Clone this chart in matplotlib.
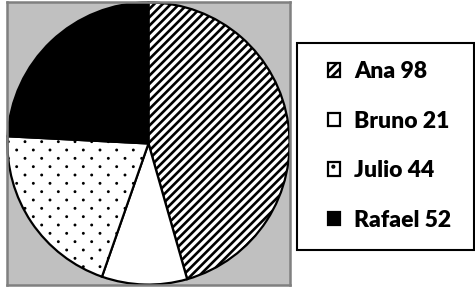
import matplotlib
matplotlib.use("Agg")
import numpy as np
import matplotlib.pyplot as plt
import matplotlib.hatch as mhatch
from matplotlib.path import Path
from matplotlib.patches import Rectangle

names = ["Ana", "Bruno", "Julio", "Rafael"]
values = [98, 21, 44, 52]
facecolors = ["white", "white", "white", "black"]
hatches = ["////", "", "oo", ""]


# small dots on a checkerboard lattice (texture for the "Julio" slice)
class CheckerDots(mhatch.HatchPatternBase):
    def __init__(self, hatch, density):
        self.n = hatch.count('o') * density
        circ = Path.unit_circle()
        self.cv = circ.vertices
        self.cc = circ.codes
        if self.n:
            pts = [(i, j) for j in range(self.n + 1) for i in range(self.n + 1)
                   if (i + j) % 2 == 0]
            self.pts = np.array(pts, float) / self.n
            self.num_vertices = len(self.pts) * len(self.cv)
        else:
            self.num_vertices = 0

    def set_vertices_and_codes(self, vertices, codes):
        r = 0.09 / self.n
        vertices[:] = np.concatenate([self.cv * r + p for p in self.pts])
        codes[:] = np.concatenate([self.cc for _ in self.pts])


mhatch._hatch_types = [CheckerDots if t is mhatch.SmallCircles else t
                       for t in mhatch._hatch_types]

plt.rcParams['hatch.linewidth'] = 1.9
plt.rcParams['hatch.color'] = 'black'

W, H = 475, 287
fig = plt.figure(figsize=(W / 100, H / 100), dpi=100)
ax = fig.add_axes([7 / W, 2 / H, 283 / W, 283 / H])

wedges, _ = ax.pie(values, startangle=90, counterclock=False, colors=facecolors,
                   wedgeprops=dict(edgecolor="black", linewidth=1.6), radius=1.0)
for w, h in zip(wedges, hatches):
    if h:
        w.set_hatch(h)
        if h.startswith('o') and hasattr(w, "set_hatch_linewidth"):
            w.set_hatch_linewidth(1.0)
ax.set_frame_on(True)
ax.patch.set_visible(True)
ax.set_facecolor("#c0c0c0")
for s in ax.spines.values():
    s.set_visible(True)
    s.set_color("#808080")
    s.set_linewidth(1.8)
ax.set_xlim(-1.003, 1.003)
ax.set_ylim(-1.003, 1.003)
ax.set_aspect("auto")
ax.set_xticks([])
ax.set_yticks([])

# legend frame
fig.patches.append(Rectangle((297 / W, 1 - 250 / H), (474 - 297) / W, (250 - 43) / H,
                             transform=fig.transFigure, facecolor="white",
                             edgecolor="black", linewidth=1.5, zorder=0))

labels = [f"{n} {v}" for n, v in zip(names, values)]
leg = fig.legend(wedges, labels, loc="upper left",
                 bbox_to_anchor=(328 / W, 1 - 61 / H),
                 frameon=False, handlelength=0.52, handleheight=0.52,
                 handletextpad=0.62, labelspacing=1.25, borderpad=0, borderaxespad=0,
                 prop=dict(family="Lato", weight="heavy", size=16.5))
fig.savefig("out.png", dpi=100)
